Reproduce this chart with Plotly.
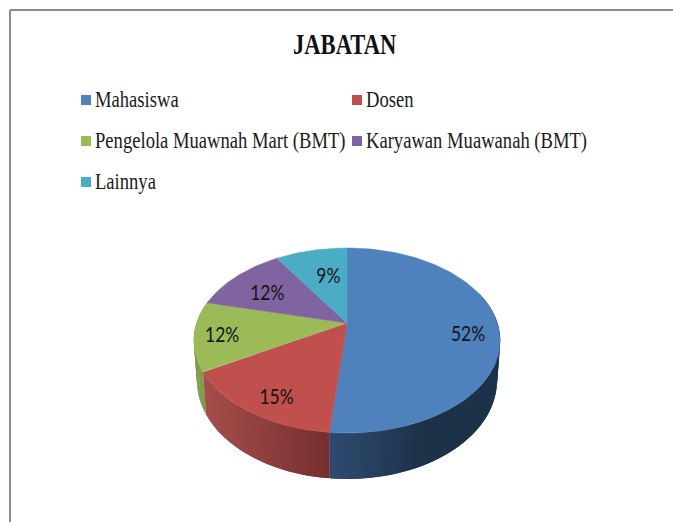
import numpy as np
import plotly.graph_objects as go

title = "JABATAN"
categories = ["Mahasiswa", "Dosen", "Pengelola Muawnah Mart (BMT)",
              "Karyawan Muawanah (BMT)", "Lainnya"]
counts = [17, 5, 4, 4, 3]
colors = ["#4f81bd", "#c0504d", "#9bbb59", "#8064a2", "#4bacc6"]
# side wall shading: colour at the left, colour at the right, x span of the fade
wall_colors = {0: ((46, 75, 112), (29, 50, 73), (330, 420)),
               1: ((166, 78, 75), (116, 47, 47), (205, 330)),
               2: ((127, 155, 74), (127, 155, 74), (195, 207))}

W, H = 673, 522
CX, CY = 347, 323      # where the slices meet
A, B, K = 150.4, 89.2, 0.189   # tilted circle, B and K give the perspective
label_r = [0.8, 0.78, 0.82, 0.7, 0.62]
label_dx = [0, 2, 0, 0, 5]
label_dy = [9, 9, 3, 5, 2]


def project(theta, r=1.0):
    # theta in degrees, clockwise from the top
    t = np.radians(theta)
    u, v = r * np.sin(t), r * np.cos(t)
    d = 1 + K * v
    return CX + A * u / d, CY - B * v / d


def wall_bottom(theta):
    x, y = project(theta)
    v = np.cos(np.radians(theta))
    return CX + 0.98 * (x - CX), y + 38 - 8 * v


edges = 360 * np.cumsum([0] + counts) / sum(counts)
pcts = [round(100 * c / sum(counts)) for c in counts]

fig = go.Figure()

# side walls first, thin overlapping strips for the shading
for i, (c1, c2, span) in wall_colors.items():
    start = max(edges[i], 70)
    stop = min(edges[i + 1], 295)
    steps = np.linspace(start, stop, 61)
    for j in range(60):
        t = np.linspace(steps[j], steps[min(j + 2, 60)], 4)
        xt, yt = project(t)
        xb, yb = wall_bottom(t)
        f = np.clip((xt.mean() - span[0]) / (span[1] - span[0]), 0, 1)
        col = "rgb(%d,%d,%d)" % tuple(a + (b - a) * f for a, b in zip(c1, c2))
        fig.add_trace(go.Scatter(x=np.r_[xt, xb[::-1]], y=np.r_[yt, yb[::-1]],
                                 mode="lines", fill="toself", fillcolor=col,
                                 line=dict(width=0)))

# top of the pie
for i, name in enumerate(categories):
    t = np.linspace(edges[i], edges[i + 1], 120)
    x, y = project(t)
    fig.add_trace(go.Scatter(x=np.r_[CX, x, CX], y=np.r_[CY, y, CY], name=name,
                             mode="lines", fill="toself", fillcolor=colors[i],
                             line=dict(color=colors[i], width=0.5)))

# percent labels
mids = (edges[:-1] + edges[1:]) / 2
lx, ly = project(mids, np.array(label_r))
fig.add_trace(go.Scatter(x=lx + np.array(label_dx), y=ly + np.array(label_dy), mode="text",
                         text=["%d%%" % p for p in pcts],
                         textfont=dict(family="Lato", size=21, color="#141414")))

# legend, two columns
leg_x = [86, 357, 86, 357, 86]
leg_y = [99, 99, 140, 140, 181]
fig.add_trace(go.Scatter(x=leg_x, y=[y + 1 for y in leg_y], mode="markers",
                         marker=dict(symbol="square", size=10, color=colors)))
for i, name in enumerate(categories):
    fig.add_annotation(x=leg_x[i] + 7, y=leg_y[i], text=name, showarrow=False,
                       xanchor="left", yanchor="middle",
                       font=dict(family="Liberation Serif", size=24, color="#1a1a1a"))

fig.add_annotation(x=345, y=43, text="<b>%s</b>" % title, showarrow=False,
                   font=dict(family="Liberation Serif", size=30, color="#111111"))

# frame around the slide, cut off right and bottom
fig.add_shape(type="line", x0=10, y0=H, x1=10, y1=10, line=dict(color="#8c8c8c", width=2))
fig.add_shape(type="line", x0=10, y0=10, x1=W, y1=10, line=dict(color="#8c8c8c", width=2))

fig.update_xaxes(visible=False, range=[0, W], fixedrange=True)
fig.update_yaxes(visible=False, range=[H, 0], fixedrange=True)
fig.update_layout(width=W, height=H, margin=dict(l=0, r=0, t=0, b=0),
                  showlegend=False, plot_bgcolor="white", paper_bgcolor="white")

# the original text is squeezed sideways, plotly has no option for that
squeeze = """
document.body.style.margin = '0';
document.body.style.overflow = 'hidden';
function squeezeText(el, s, centered) {
    var box = el.getBBox();
    var x0 = centered ? box.x + box.width / 2 : box.x;
    el.setAttribute('transform', 'translate(' + x0 + ',0) scale(' + s + ',1) translate(' + (-x0) + ',0)');
}
document.querySelectorAll('.annotation-text').forEach(function (el) {
    if (el.textContent === 'JABATAN') { squeezeText(el, 0.753, true); }
    else { squeezeText(el, 0.775, false); }
});
document.querySelectorAll('.textpoint text').forEach(function (el) {
    squeezeText(el, 0.83, true);
});
"""
fig.write_html("out.html", post_script=squeeze, config=dict(displayModeBar=False))
